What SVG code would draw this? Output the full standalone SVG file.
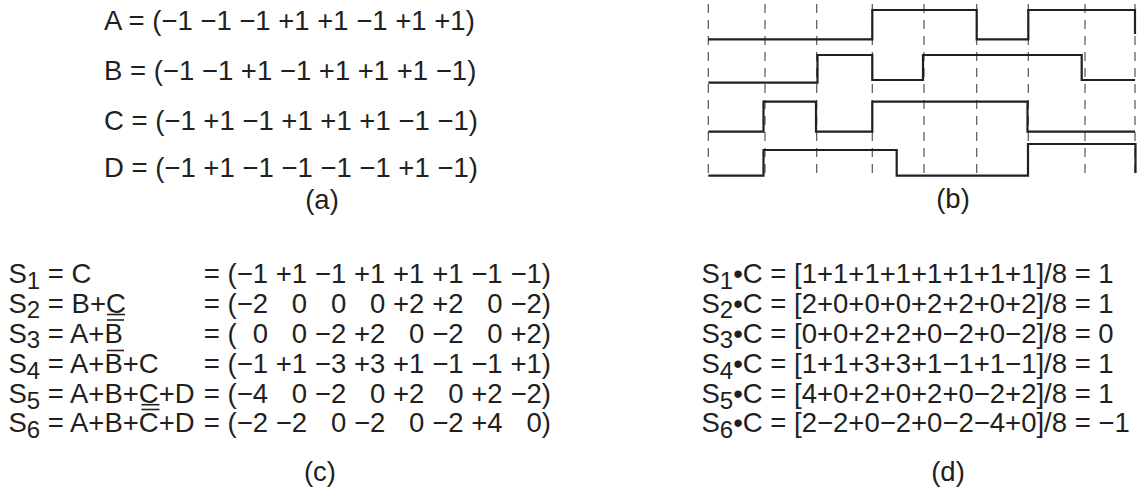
<svg xmlns="http://www.w3.org/2000/svg" width="1140" height="496" viewBox="0 0 1140 496">
<style>
text{font-family:"Liberation Sans",Arial,Helvetica,sans-serif;font-size:27.5px;fill:#231f20}
.e{text-anchor:end}
.m{text-anchor:middle}
.sub{font-size:24px}
.grid{stroke:#555;stroke-width:1.2;stroke-dasharray:9 7;fill:none}
.wave{stroke:#231f20;stroke-width:2.2;fill:none;stroke-linejoin:miter}
.bar{stroke:#231f20;stroke-width:1.6}
</style>
<rect width="1140" height="496" fill="#fff"/>
<g id="panel-a">
<text x="104" y="30">A = (−1 −1 −1 +1 +1 −1 +1 +1)</text>
<text x="104" y="80">B = (−1 −1 +1 −1 +1 +1 +1 −1)</text>
<text x="104" y="130">C = (−1 +1 −1 +1 +1 +1 −1 −1)</text>
<text x="104" y="177">D = (−1 +1 −1 −1 −1 −1 +1 −1)</text>
<text class="m" x="322" y="209">(a)</text>
</g>
<g id="panel-b">
<g id="grid">
<line class="grid" x1="708.3" y1="4" x2="708.3" y2="180"/>
<line class="grid" x1="765" y1="4" x2="765" y2="180"/>
<line class="grid" x1="816.7" y1="4" x2="816.7" y2="180"/>
<line class="grid" x1="872.3" y1="4" x2="872.3" y2="180"/>
<line class="grid" x1="924" y1="4" x2="924" y2="180"/>
<line class="grid" x1="976.7" y1="4" x2="976.7" y2="180"/>
<line class="grid" x1="1028.3" y1="4" x2="1028.3" y2="180"/>
<line class="grid" x1="1085" y1="4" x2="1085" y2="180"/>
<line class="grid" x1="1135" y1="4" x2="1135" y2="180"/>
</g>
<path id="wave-A" class="wave" d="M708.3,39.3 H872.3 V10 H976.7 V39.3 H1028.3 V10 H1135 V34"/>
<path id="wave-B" class="wave" d="M708.3,82.7 H817.5 V55 H872.3 V80 H923 V55 H1081.7 V80 H1135"/>
<path id="wave-C" class="wave" d="M708.3,131.7 H763.5 V101.7 H816 V131.7 H872.3 V101.7 H1027.5 V131.7 H1135"/>
<path id="wave-D" class="wave" d="M708.3,175.7 H763.5 V150 H896.7 V175.7 H1028 V144 H1135.5 V173"/>
<text class="m" x="953" y="208">(b)</text>
</g>
<g id="panel-c">
<text x="8.5" y="283">S<tspan class="sub" dy="5.5">1</tspan><tspan dy="-5.5"> = C</tspan></text>
<text x="8.5" y="312.8">S<tspan class="sub" dy="5.5">2</tspan><tspan dy="-5.5"> = B+C</tspan></text>
<text x="8.5" y="342.6">S<tspan class="sub" dy="5.5">3</tspan><tspan dy="-5.5"> = A+B</tspan></text>
<text x="8.5" y="373">S<tspan class="sub" dy="5.5">4</tspan><tspan dy="-5.5"> = A+B+C</tspan></text>
<text x="8.5" y="403">S<tspan class="sub" dy="5.5">5</tspan><tspan dy="-5.5"> = A+B+C+D</tspan></text>
<text x="8.5" y="432">S<tspan class="sub" dy="5.5">6</tspan><tspan dy="-5.5"> = A+B+C+D</tspan></text>
<line class="bar" x1="107" y1="314.5" x2="125" y2="314.5"/>
<line class="bar" x1="107" y1="320" x2="124" y2="320"/>
<line class="bar" x1="107" y1="350.5" x2="124" y2="350.5"/>
<line class="bar" x1="141.5" y1="404.7" x2="159.5" y2="404.7"/>
<line class="bar" x1="141.5" y1="409.5" x2="159.5" y2="409.5"/>
<text class="e" y="283"><tspan x="236.6">= (</tspan><tspan x="268">−1</tspan><tspan x="307.1">+1</tspan><tspan x="346.2">−1</tspan><tspan x="385.3">+1</tspan><tspan x="424.4">+1</tspan><tspan x="463.5">+1</tspan><tspan x="502.6">−1</tspan><tspan x="550.9">−1)</tspan></text>
<text class="e" y="312.8"><tspan x="236.6">= (</tspan><tspan x="268">−2</tspan><tspan x="307.1">0</tspan><tspan x="346.2">0</tspan><tspan x="385.3">0</tspan><tspan x="424.4">+2</tspan><tspan x="463.5">+2</tspan><tspan x="502.6">0</tspan><tspan x="550.9">−2)</tspan></text>
<text class="e" y="342.6"><tspan x="236.6">= (</tspan><tspan x="268">0</tspan><tspan x="307.1">0</tspan><tspan x="346.2">−2</tspan><tspan x="385.3">+2</tspan><tspan x="424.4">0</tspan><tspan x="463.5">−2</tspan><tspan x="502.6">0</tspan><tspan x="550.9">+2)</tspan></text>
<text class="e" y="373"><tspan x="236.6">= (</tspan><tspan x="268">−1</tspan><tspan x="307.1">+1</tspan><tspan x="346.2">−3</tspan><tspan x="385.3">+3</tspan><tspan x="424.4">+1</tspan><tspan x="463.5">−1</tspan><tspan x="502.6">−1</tspan><tspan x="550.9">+1)</tspan></text>
<text class="e" y="403"><tspan x="236.6">= (</tspan><tspan x="268">−4</tspan><tspan x="307.1">0</tspan><tspan x="346.2">−2</tspan><tspan x="385.3">0</tspan><tspan x="424.4">+2</tspan><tspan x="463.5">0</tspan><tspan x="502.6">+2</tspan><tspan x="550.9">−2)</tspan></text>
<text class="e" y="432"><tspan x="236.6">= (</tspan><tspan x="268">−2</tspan><tspan x="307.1">−2</tspan><tspan x="346.2">0</tspan><tspan x="385.3">−2</tspan><tspan x="424.4">0</tspan><tspan x="463.5">−2</tspan><tspan x="502.6">+4</tspan><tspan x="550.9">0)</tspan></text>
<text class="m" x="320" y="481">(c)</text>
</g>
<g id="panel-d">
<text x="701.5" y="283">S<tspan class="sub" dy="5.5">1</tspan><tspan dy="-5.5">•C = [1+1+1+1+1+1+1+1]/8 = 1</tspan></text>
<text x="701.5" y="312.8">S<tspan class="sub" dy="5.5">2</tspan><tspan dy="-5.5">•C = [2+0+0+0+2+2+0+2]/8 = 1</tspan></text>
<text x="701.5" y="342.6">S<tspan class="sub" dy="5.5">3</tspan><tspan dy="-5.5">•C = [0+0+2+2+0−2+0−2]/8 = 0</tspan></text>
<text x="701.5" y="373">S<tspan class="sub" dy="5.5">4</tspan><tspan dy="-5.5">•C = [1+1+3+3+1−1+1−1]/8 = 1</tspan></text>
<text x="701.5" y="403">S<tspan class="sub" dy="5.5">5</tspan><tspan dy="-5.5">•C = [4+0+2+0+2+0−2+2]/8 = 1</tspan></text>
<text x="701.5" y="432">S<tspan class="sub" dy="5.5">6</tspan><tspan dy="-5.5">•C = [2−2+0−2+0−2−4+0]/8 = −1</tspan></text>
<text class="m" x="948" y="481">(d)</text>
</g>
</svg>
